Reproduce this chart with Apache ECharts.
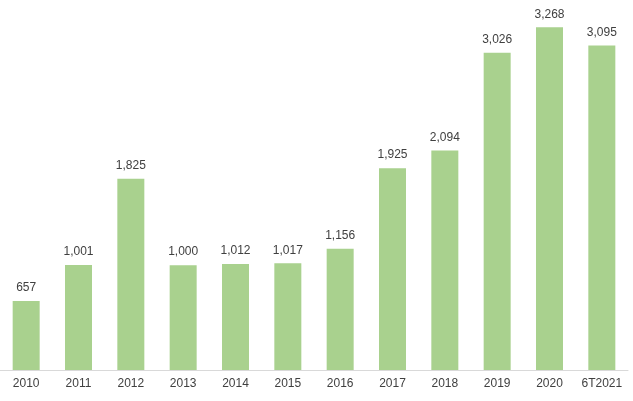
<!DOCTYPE html>
<html><head><meta charset="utf-8">
<script src="https://cdn.jsdelivr.net/npm/echarts@6/dist/echarts.min.js"></script>
<style>html,body{margin:0;padding:0;background:#fff}#c{width:633px;height:401px}</style>
</head><body><div id="c"></div>
<script>
const categories=['2010','2011','2012','2013','2014','2015','2016','2017','2018','2019','2020','6T2021'];
const values=[657,1001,1825,1000,1012,1017,1156,1925,2094,3026,3268,3095];
const chart=echarts.init(document.getElementById('c'));
chart.setOption({
  animation:false,
  grid:{left:-3,right:5,top:3,bottom:31,containLabel:false},
  xAxis:{type:'category',data:categories,
    axisLine:{lineStyle:{color:'#d9d9d9'}},axisTick:{show:false},
    axisLabel:{color:'#404040',fontSize:12,fontFamily:'Arial, Liberation Sans',margin:8,interval:0}},
  yAxis:{type:'value',min:0,max:3500,show:false,splitLine:{show:false}},
  series:[{type:'bar',data:values,barWidth:27,itemStyle:{color:'#a9d18e'},
    label:{show:true,position:'top',distance:7,color:'#404040',fontSize:12,fontFamily:'Arial, Liberation Sans',
      formatter:p=>p.value.toLocaleString('en-US')}}]
});
</script></body></html>
